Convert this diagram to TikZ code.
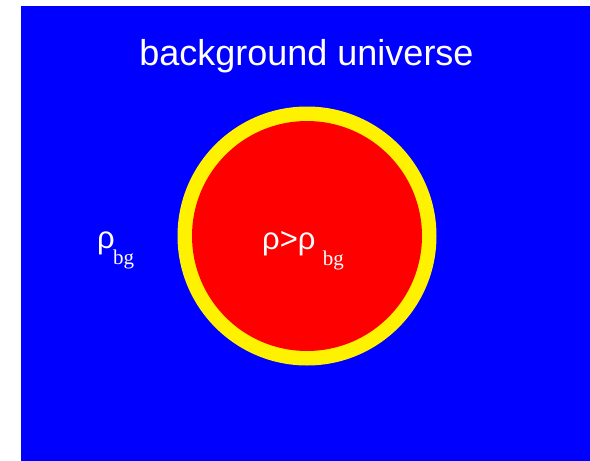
\documentclass[tikz,border=0pt]{standalone}
\usepackage{fontspec}
\setmainfont{Liberation Sans}
\newfontfamily\subfont{Liberation Serif}
\usepackage{tikz}

\begin{document}
\begin{tikzpicture}[x=1pt, y=-1pt, line join=round, line cap=round, text=white,
	title/.style={font=\fontsize{36}{40}\selectfont, inner sep=0pt},
	rho/.style={font=\fontsize{31}{35}\selectfont, inner sep=0pt},
	sub/.style={font=\subfont\fontsize{21}{25}\selectfont, inner sep=0pt}]
	% Frame and background universe
	\fill[white] (0,0) rectangle (590,461);
	\fill[blue] (20.5,6) rectangle (590,461);

	% Overdense region
	\coordinate (M) at (307,236);
	\fill[yellow] (M) circle (129.5pt);
	\fill[red] (M) circle (115pt);

	% Labels
	\node[title, anchor=base] (bgu) at (306.5,65) {background universe};
	\node[rho, anchor=base west] (rhoL) at (97,248) {ρ};
	\node[sub, anchor=base west] (bgL) at ([xshift=-2pt, yshift=-16pt]rhoL.base east) {bg};
	\node[rho, anchor=base west] (rhoM) at (262,249) {ρ>ρ};
	\node[sub, anchor=base west] (bgM) at ([xshift=7pt, yshift=-16pt]rhoM.base east) {bg};
\end{tikzpicture}
\end{document}
